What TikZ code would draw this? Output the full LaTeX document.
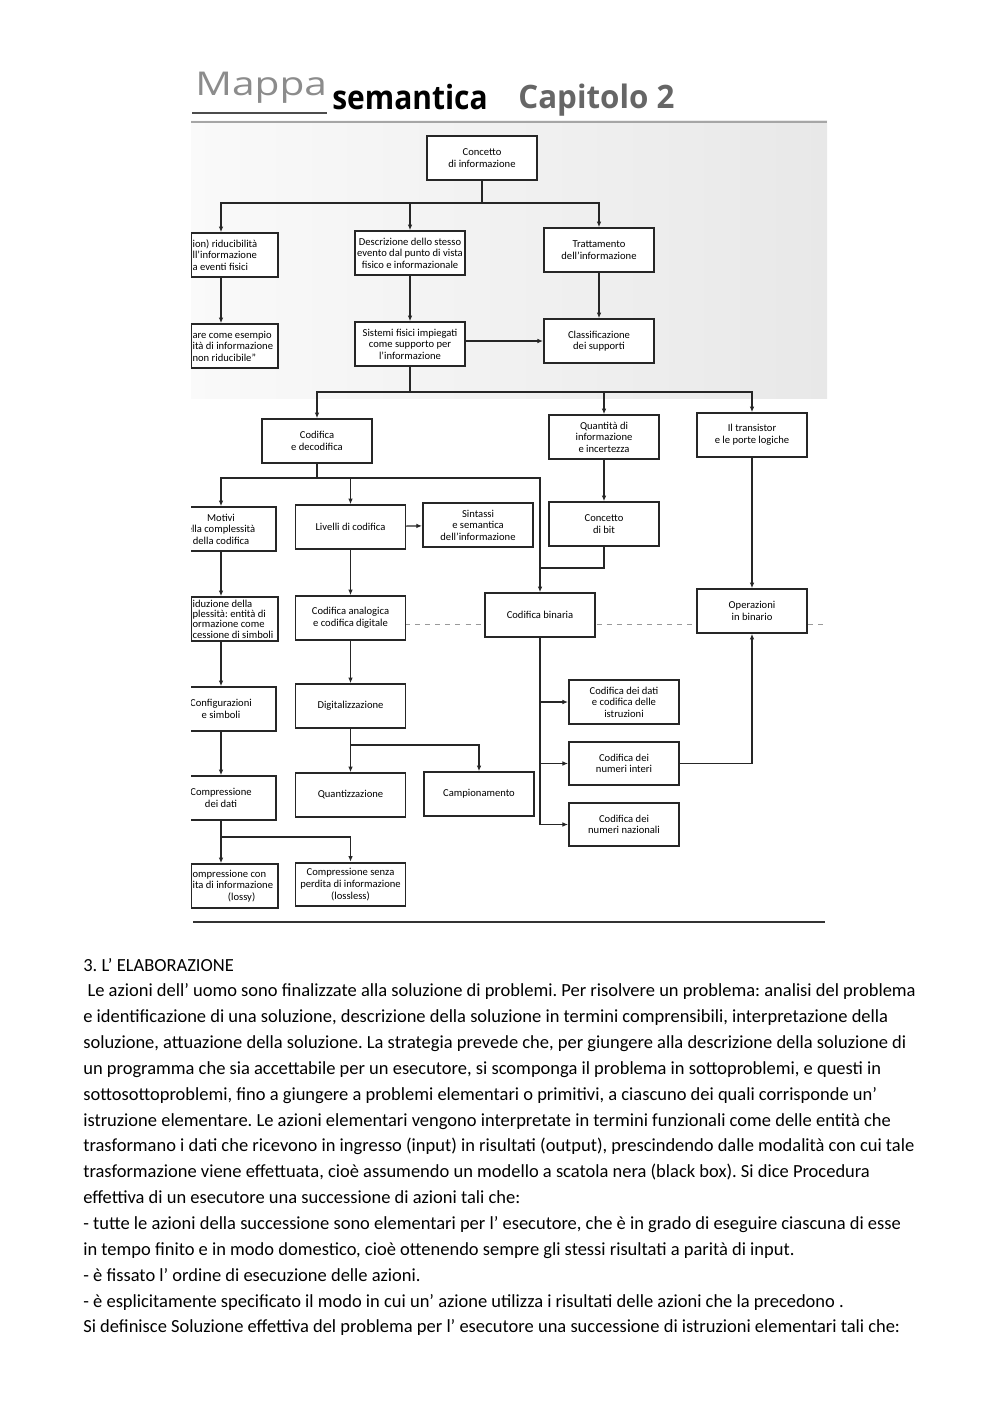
\documentclass[tikz,border=0pt]{standalone}
\usepackage{graphicx}
\usepackage{fontspec}
\setmainfont{Carlito}
\newfontfamily\headfont{Open Sans}
\usetikzlibrary{arrows.meta}
\frenchspacing

\begin{document}
\begin{tikzpicture}[x=0.595pt,y=-0.595pt,
	box/.style={draw=black!85,line width=1.1pt,fill=white,minimum width=65.5pt,minimum height=26pt,
		inner sep=1pt,align=center,text=black,font=\fontsize{6.3}{6.9}\selectfont},
	cutbox/.style={box,anchor=west,align=flush left,text width=50pt,minimum width=0pt},
	wire/.style={draw=black!85,line width=0.75pt},
	arr/.style={wire,-{Latex[length=3.4pt,width=2.8pt]}},
	textline/.style={anchor=base west,inner sep=0pt,font=\fontsize{11}{13}\selectfont}]
	\useasboundingbox (0,0) rectangle (1000,1415);
	\fill[white] (0,0) rectangle (1000,1415);

	% titolo
	\node[anchor=base west,inner sep=0pt,text=black!45] (mappa) at (195,95)
		{\scalebox{1.24}[1]{\headfont\fontsize{19.5}{20}\selectfont Mappa}};
	\draw[black!70,line width=0.9pt] (192,113) -- (327,113);
	\node[anchor=base west,inner sep=0pt] (seman) at (332,110)
		{\scalebox{0.9}[1]{\headfont\bfseries\fontsize{19.8}{20}\selectfont semantica}};
	\node[anchor=base west,inner sep=0pt,text=black!60] (capit) at (518,108)
		{\scalebox{0.97}[1]{\headfont\bfseries\fontsize{19.2}{20}\selectfont Capitolo 2}};

	\begin{scope}
	\clip (191,116) rectangle (830,930);
	\shade[left color=black!2,right color=black!9] (190,120) rectangle (827,398);
	\draw[black!35,line width=0.6pt] (190,122) -- (827,122);
	% artefatto della scansione
	\draw[black!40,dashed,line width=0.5pt] (405,624) -- (828,624);

	\node[box] (conc) at (482,158) {Concetto\\di informazione};
	\node[cutbox] (riduc) at (190,255) {ion) riducibilità\\ll'informazione\\a eventi fisici};
	\node[box] (descr) at (410,253) {Descrizione dello stesso\\evento dal punto di vista\\fisico e informazionale};
	\node[box] (tratt) at (599,250) {Trattamento\\dell'informazione};
	\node[cutbox] (esempio) at (190,346) {are come esempio\\ità di informazione\\non riducibile”};
	\node[box] (sistemi) at (410,344) {Sistemi fisici impiegati\\come supporto per\\l'informazione};
	\node[box] (classif) at (599,341) {Classificazione\\dei supporti};
	\node[box] (codif) at (317,441) {Codifica\\e decodifica};
	\node[box] (quant) at (604,437) {Quantità di\\informazione\\e incertezza};
	\node[box] (transistor) at (752,435) {Il transistor\\e le porte logiche};
	\node[box] (motivi) at (221,529) {Motivi\\ella complessità\\della codifica};
	\node[box] (livelli) at (350.5,527) {Livelli di codifica};
	\node[box] (sintassi) at (478,525) {Sintassi\\e semantica\\dell'informazione};
	\node[box] (bit) at (604,524) {Concetto\\di bit};
	\node[cutbox,font=\fontsize{6.3}{6.1}\selectfont] (riduzione) at (190,619)
		{iduzione della\\plessità: entità di\\ormazione come\\cessione di simboli};
	\node[box] (analog) at (350.5,618) {Codifica analogica\\e codifica digitale};
	\node[box] (binaria) at (540,615) {Codifica binaria};
	\node[box] (operaz) at (752,611) {Operazioni\\in binario};
	\node[box] (config) at (221,709) {Configurazioni\\e simboli};
	\node[box] (digit) at (350.5,706) {Digitalizzazione};
	\node[box] (dati) at (624,702) {Codifica dei dati\\e codifica delle\\istruzioni};
	\node[box] (interi) at (624,763.5) {Codifica dei\\numeri interi};
	\node[box] (nazion) at (624,824.5) {Codifica dei\\numeri nazionali};
	\node[box] (comprdati) at (221,798) {Compressione\\dei dati};
	\node[box] (quantiz) at (350.5,795) {Quantizzazione};
	\node[box] (campion) at (479,794) {Campionamento};
	\node[cutbox] (lossy) at (190,886) {ompressione con\\ita di informazione\\\hspace*{21pt}(lossy)};
	\node[box] (lossless) at (350.5,884.5) {Compressione senza\\perdita di informazione\\(lossless)};

	\coordinate (b1) at (482,203);
	\coordinate (b2) at (410,392);
	\coordinate (b3) at (317,478);
	\coordinate (j1) at (540,568);
	\coordinate (b4) at (350.5,745);
	\coordinate (b5) at (221,837);

	\draw[wire] (conc) -- (b1);
	\draw[arr] (b1) -| (riduc.north -| motivi);
	\draw[arr] (b1) -| (descr);
	\draw[arr] (b1) -| (tratt);
	\draw[arr] (riduc.south -| motivi) -- (esempio.north -| motivi);
	\draw[arr] (descr) -- (sistemi);
	\draw[arr] (tratt) -- (classif);
	\draw[arr] (sistemi.east |- classif) -- (classif);
	\draw[wire] (sistemi) -- (b2);
	\draw[arr] (b2) -| (codif);
	\draw[arr] (b2) -| (quant);
	\draw[arr] (b2) -| (transistor);
	\draw[wire] (codif) -- (b3);
	\draw[arr] (b3) -| (motivi);
	\draw[arr] (b3) -| (livelli);
	\draw[arr] (b3) -| (binaria);
	\draw[arr] (livelli) -- (sintassi);
	\draw[arr] (quant) -- (bit);
	\draw[wire] (bit) |- (j1);
	\draw[arr] (transistor) -- (operaz);
	\draw[arr] (motivi) -- (riduzione.north -| motivi);
	\draw[arr] (riduzione.south -| motivi) -- (config);
	\draw[arr] (config) -- (comprdati);
	\draw[arr] (livelli) -- (analog);
	\draw[arr] (analog) -- (digit);
	\draw[arr] (binaria) |- (dati);
	\draw[arr] (binaria) |- (interi);
	\draw[arr] (binaria) |- (nazion);
	\draw[arr] (interi) -| (operaz);
	\draw[wire] (digit) -- (b4);
	\draw[arr] (b4) -| (quantiz);
	\draw[arr] (b4) -| (campion);
	\draw[wire] (comprdati) -- (b5);
	\draw[arr] (b5) -| (lossy.north -| comprdati);
	\draw[arr] (b5) -| (lossless);

	\draw[black!80,line width=1.2pt] (193,922) -- (825,922);
	\end{scope}

	% testo
	\foreach \t [count=\i from 0] in {
		{3. L’ ELABORAZIONE},
		{\ Le azioni dell’ uomo sono finalizzate alla soluzione di problemi. Per risolvere un problema: analisi del problema},
		{e identificazione di una soluzione, descrizione della soluzione in termini comprensibili, interpretazione della},
		{soluzione, attuazione della soluzione. La strategia prevede che, per giungere alla descrizione della soluzione di},
		{un programma che sia accettabile per un esecutore, si scomponga il problema in sottoproblemi, e questi in},
		{sottosottoproblemi, fino a giungere a problemi elementari o primitivi, a ciascuno dei quali corrisponde un’},
		{istruzione elementare. Le azioni elementari vengono interpretate in termini funzionali come delle entità che},
		{trasformano i dati che ricevono in ingresso (input) in risultati (output), prescindendo dalle modalità con cui tale},
		{trasformazione viene effettuata, cioè assumendo un modello a scatola nera (black box). Si dice Procedura},
		{effettiva di un esecutore una successione di azioni tali che:},
		{- tutte le azioni della successione sono elementari per l’ esecutore, che è in grado di eseguire ciascuna di esse},
		{in tempo finito e in modo domestico, cioè ottenendo sempre gli stessi risultati a parità di input.},
		{- è fissato l’ ordine di esecuzione delle azioni.},
		{- è esplicitamente specificato il modo in cui un’ azione utilizza i risultati delle azioni che la precedono .},
		{Si definisce Soluzione effettiva del problema per l’ esecutore una successione di  istruzioni elementari tali che:}}
		\node[textline] (riga\i) at (83,{971+25.85*\i}) {\t};
\end{tikzpicture}
\end{document}
